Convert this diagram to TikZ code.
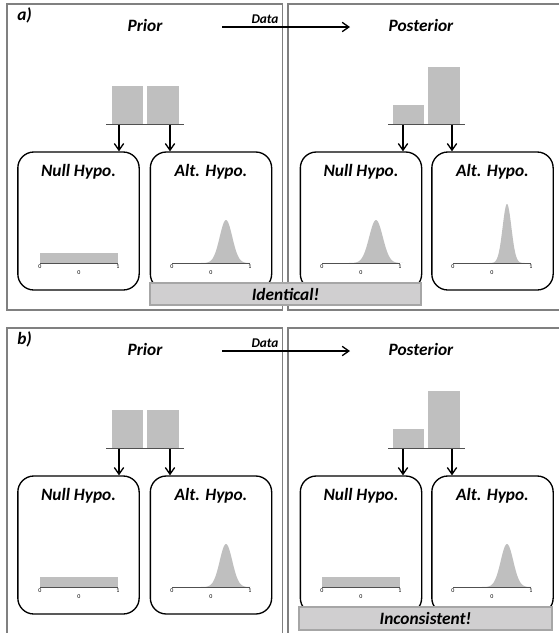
\documentclass[tikz,border=0pt]{standalone}
\usepackage{fontspec}
\setmainfont{Carlito}
\usetikzlibrary{arrows.meta}

\definecolor{densgray}{RGB}{191,191,191}
\definecolor{verdictfill}{RGB}{208,207,208}
\definecolor{verdictline}{RGB}{166,166,166}
\definecolor{panelline}{RGB}{128,128,128}
\definecolor{baseline}{RGB}{80,80,80}

% axis of a small density plot: #1 name, #2 left end
\newcommand{\hypaxis}[2]{%
  \coordinate (#1-l) at (#2,263);
  \coordinate (#1-r) at ({#2+78},263);
  \draw [axisline] (#1-l) -- (#1-r);
  \node [ticklab] (#1-t0) at (#2,267) {0};
  \node [ticklab] (#1-t1) at ({#2+78},267) {1};
  \node [ticklab] (#1-tm) at ({#2+39},273) {0};
}
% flat density over the axis starting at #1
\newcommand{\flatdens}[1]{\fill [dens] (#1,253) rectangle ({#1+78},263);}
% bell density: #1 left end, #2 height, #3 spread
\newcommand{\belldens}[3]{%
  \fill [dens] plot [domain=-4:4,samples=60] ({#1+54+#3*(\x)},{263-#2*exp(-0.5*(\x)^2)}) -- cycle;}

\begin{document}
\begin{tikzpicture}[x=0.75pt,y=0.75pt,yscale=-1,xscale=1,
  panel/.style={draw=panelline,line width=1pt},
  hypbox/.style={draw,line width=1pt,rounded corners=12pt,minimum width=91pt,minimum height=103.5pt},
  hyptitle/.style={font=\fontsize{13}{15}\selectfont\bfseries\itshape},
  tag/.style={font=\fontsize{13}{15}\selectfont\bfseries\itshape,anchor=west,inner sep=0pt},
  datalab/.style={font=\fontsize{10}{12}\selectfont\bfseries\itshape,inner sep=0pt},
  verdict/.style={draw=verdictline,fill=verdictfill,line width=1.5pt,font=\fontsize{13}{15}\selectfont\bfseries\itshape},
  bar/.style={fill=densgray},
  barbase/.style={draw=baseline,line width=0.9pt},
  conn/.style={-{Straight Barb[length=5pt,width=7pt]},line width=1pt},
  dens/.style={fill=densgray},
  axisline/.style={draw=baseline,line width=0.6pt},
  ticklab/.style={font=\fontsize{4.5}{5}\selectfont,inner sep=0pt}]
\useasboundingbox (0,0) rectangle (559,633);

%%%%%%%%%%%%%%%% panel a
%Panels
\draw [panel] (7,4) rectangle (282.5,310);
\draw [panel] (288,4) rectangle (562,310);
% Text Nodes
\node [tag] (a-tag) at (17,15) {a)};
\node [hyptitle] (a-prior) at (145,25) {Prior};
\node [hyptitle] (a-post) at (421,25) {Posterior};
%Data arrow
\coordinate (a-dstart) at (222,27);
\coordinate (a-dend) at (350,27);
\draw [conn] (a-dstart) -- (a-dend);
\node [datalab] (a-data) at (265,19) {Data};
%Prior bars
\fill [bar] (112,86) rectangle (143,124);
\fill [bar] (147,86) rectangle (179,124);
\draw [barbase] (106,124.5) -- (184,124.5);
%Posterior bars
\fill [bar] (393,105) rectangle (424,124);
\fill [bar] (428,67) rectangle (460,124);
\draw [barbase] (388,124.5) -- (465,124.5);
%Hypothesis boxes
\node [hypbox] (a-pnull) at (78.5,221) {};
\node [hypbox] (a-palt) at (211,221) {};
\node [hypbox] (a-qnull) at (361,221) {};
\node [hypbox] (a-qalt) at (492.5,221) {};
\node [hyptitle] (a-pnull-t) at (78.5,172) {Null Hypo.};
\node [hyptitle] (a-palt-t) at (211,172) {Alt. Hypo.};
\node [hyptitle] (a-qnull-t) at (361,172) {Null Hypo.};
\node [hyptitle] (a-qalt-t) at (492.5,172) {Alt. Hypo.};
%Arrows from the bars
\coordinate (a-pbar1) at (119,124.5);
\coordinate (a-pbar2) at (170,124.5);
\coordinate (a-qbar1) at (403,124.5);
\coordinate (a-qbar2) at (452,124.5);
\draw [conn] (a-pbar1) -- (a-pbar1 |- a-pnull.north);
\draw [conn] (a-pbar2) -- (a-pbar2 |- a-palt.north);
\draw [conn] (a-qbar1) -- (a-qbar1 |- a-qnull.north);
\draw [conn] (a-qbar2) -- (a-qbar2 |- a-qalt.north);
%Densities
\flatdens{40}
\hypaxis{a-pnull-ax}{40}
\belldens{172}{43}{6.3}
\hypaxis{a-palt-ax}{172}
\belldens{322}{43}{6.8}
\hypaxis{a-qnull-ax}{322}
\belldens{453}{59}{4.4}
\hypaxis{a-qalt-ax}{453}
% Text Node
\node [verdict,minimum width=203pt,minimum height=16.5pt] (a-verdict) at (285.5,294) {Identical!};

%%%%%%%%%%%%%%%% panel b
%Panels
\draw [panel] (7,328) rectangle (282.5,634);
\draw [panel] (288,328) rectangle (562,634);
% Text Nodes
\node [tag] (b-tag) at (17,339) {b)};
\node [hyptitle] (b-prior) at (145,349) {Prior};
\node [hyptitle] (b-post) at (421,349) {Posterior};
%Data arrow
\coordinate (b-dstart) at (222,351);
\coordinate (b-dend) at (350,351);
\draw [conn] (b-dstart) -- (b-dend);
\node [datalab] (b-data) at (265,343) {Data};
%Prior bars
\fill [bar] (112,410) rectangle (143,448);
\fill [bar] (147,410) rectangle (179,448);
\draw [barbase] (106,448.5) -- (184,448.5);
%Posterior bars
\fill [bar] (393,429) rectangle (424,448);
\fill [bar] (428,391) rectangle (460,448);
\draw [barbase] (388,448.5) -- (465,448.5);
%Hypothesis boxes
\node [hypbox] (b-pnull) at (78.5,545) {};
\node [hypbox] (b-palt) at (211,545) {};
\node [hypbox] (b-qnull) at (361,545) {};
\node [hypbox] (b-qalt) at (492.5,545) {};
\node [hyptitle] (b-pnull-t) at (78.5,496) {Null Hypo.};
\node [hyptitle] (b-palt-t) at (211,496) {Alt. Hypo.};
\node [hyptitle] (b-qnull-t) at (361,496) {Null Hypo.};
\node [hyptitle] (b-qalt-t) at (492.5,496) {Alt. Hypo.};
%Arrows from the bars
\coordinate (b-pbar1) at (119,448.5);
\coordinate (b-pbar2) at (170,448.5);
\coordinate (b-qbar1) at (403,448.5);
\coordinate (b-qbar2) at (452,448.5);
\draw [conn] (b-pbar1) -- (b-pbar1 |- b-pnull.north);
\draw [conn] (b-pbar2) -- (b-pbar2 |- b-palt.north);
\draw [conn] (b-qbar1) -- (b-qbar1 |- b-qnull.north);
\draw [conn] (b-qbar2) -- (b-qbar2 |- b-qalt.north);
%Densities
\begin{scope}[shift={(0,324)}]
\flatdens{40}
\hypaxis{b-pnull-ax}{40}
\belldens{172}{43}{6.3}
\hypaxis{b-palt-ax}{172}
\flatdens{322}
\hypaxis{b-qnull-ax}{322}
\belldens{453}{43}{6.3}
\hypaxis{b-qalt-ax}{453}
\end{scope}
% Text Node
\node [verdict,minimum width=190pt,minimum height=17pt] (b-verdict) at (425.5,618.5) {Inconsistent!};

\end{tikzpicture}
\end{document}
